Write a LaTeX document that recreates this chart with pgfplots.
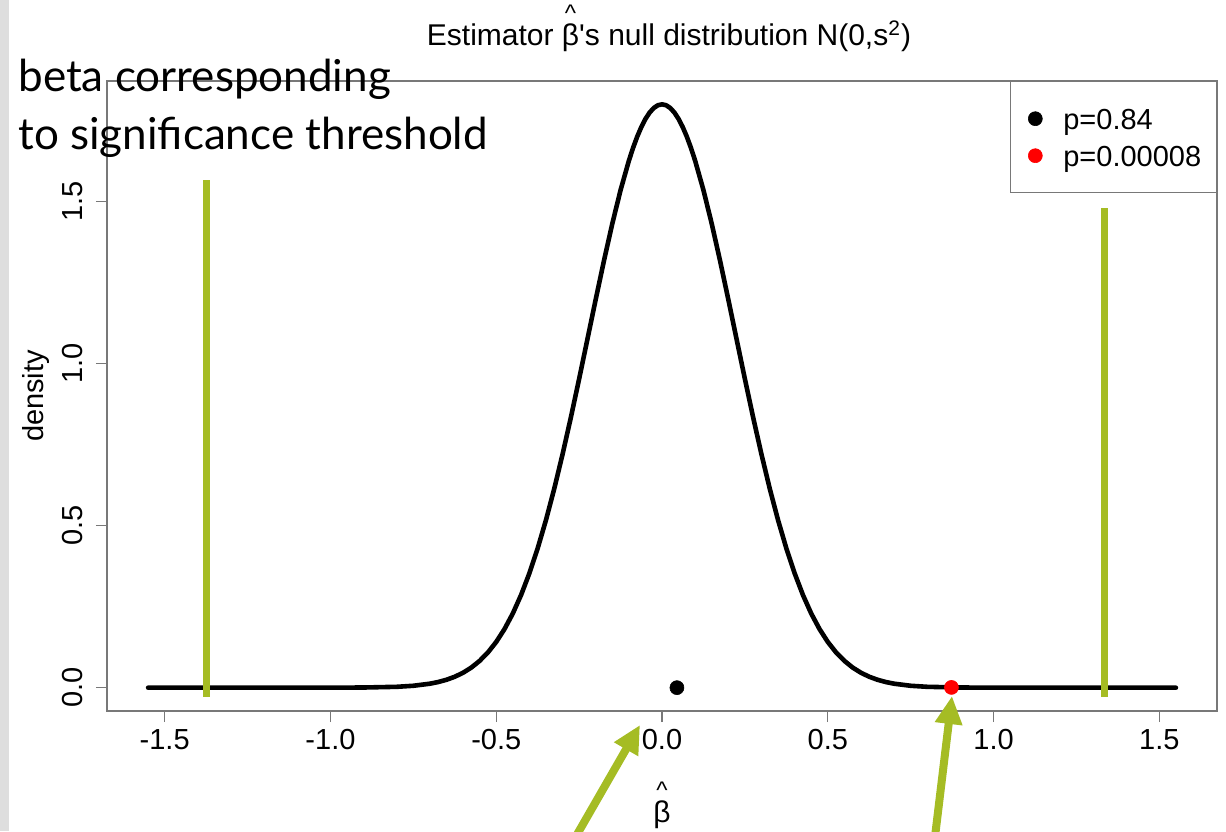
\documentclass[border=0pt]{standalone}
\usepackage{fontspec}
\setmainfont{Liberation Sans}
\newfontfamily\gill{Lato}
\usepackage{pgfplots}
\pgfplotsset{compat=1.18}
\usetikzlibrary{arrows.meta}
\definecolor{olivegr}{RGB}{165,188,36}
\definecolor{axgray}{RGB}{120,120,120}
\definecolor{stripgray}{RGB}{222,222,222}
\newcommand{\hatbeta}{\leavevmode\setbox0\hbox{β}\rlap{\hbox to\wd0{\hss\raisebox{12pt}{\fontsize{12}{12}\selectfont\symbol{"5E}}\hss}}β}
\begin{document}
\begin{tikzpicture}
\path[use as bounding box] (0pt,0pt) rectangle (613pt,415.5pt);
\begin{axis}[
  at={(53.5pt,60pt)}, anchor=south west,
  scale only axis, width=555pt, height=315pt,
  xmin=-1.674, xmax=1.674, ymin=-0.072, ymax=1.872,
  axis line style={draw=axgray, line width=0.7pt},
  tick style={draw=axgray, line width=0.7pt},
  tick align=outside, major tick length=5.5pt,
  xtick pos=bottom, ytick pos=left,
  xtick={-1.5,-1,-0.5,0,0.5,1,1.5},
  xticklabels={-1.5,-1.0,-0.5,0.0,0.5,1.0,1.5},
  ytick={0,0.5,1,1.5},
  yticklabels={0.0,0.5,1.0,1.5},
  tick label style={font=\fontsize{14.5}{16}\selectfont},
  xticklabel style={anchor=north, inner sep=0pt, text height=10.4pt, text depth=0pt, yshift=-3pt},
  yticklabel style={xshift=-6.5pt, rotate=90, anchor=base, inner sep=0pt},
  legend cell align=left,
  legend style={at={(rel axis cs:1,1)}, anchor=north east, draw=axgray, line width=0.7pt,
    inner xsep=0pt, inner ysep=9.25pt, row sep=0pt, column sep=0pt,
    font=\fontsize{14.5}{16}\selectfont,
    nodes={draw=none, inner sep=0pt, text height=10.4pt, text depth=0pt, anchor=west, text width=76.5pt}},
  legend image code/.code={\path[draw=none] (0pt,-9.25pt) rectangle (26.5pt,9.25pt); \draw[#1] plot coordinates {(12.5pt,0pt)};},
]
\addplot[black, line width=2.3pt, line cap=round, line join=round, forget plot] coordinates {
(-1.55,0) (-1.2,0) (-1.0,0.00007) (-0.9,0.00047) (-0.8,0.00266) (-0.75,0.00586)
(-0.7,0.01226) (-0.675,0.01740) (-0.65,0.02438) (-0.625,0.03372) (-0.6,0.04606)
(-0.575,0.06212) (-0.55,0.08272) (-0.525,0.10876) (-0.5,0.14118) (-0.475,0.18095)
(-0.45,0.22897) (-0.425,0.28612) (-0.4,0.35302) (-0.375,0.42996) (-0.35,0.51711)
(-0.325,0.61405) (-0.3,0.71995) (-0.275,0.83341) (-0.25,0.95257) (-0.225,1.07501)
(-0.2,1.19779) (-0.175,1.31779) (-0.15,1.43145) (-0.125,1.53525) (-0.1,1.62574)
(-0.0875,1.66501) (-0.075,1.69980) (-0.0625,1.72981) (-0.05,1.75476) (-0.0375,1.77441)
(-0.025,1.78858) (-0.0125,1.79714) (0,1.8)
(0.0125,1.79714) (0.025,1.78858) (0.0375,1.77441) (0.05,1.75476) (0.0625,1.72981)
(0.075,1.69980) (0.0875,1.66501) (0.1,1.62574) (0.125,1.53525)
(0.15,1.43145) (0.175,1.31779) (0.2,1.19779) (0.225,1.07501) (0.25,0.95257)
(0.275,0.83341) (0.3,0.71995) (0.325,0.61405) (0.35,0.51711) (0.375,0.42996)
(0.4,0.35302) (0.425,0.28612) (0.45,0.22897) (0.475,0.18095) (0.5,0.14118)
(0.525,0.10876) (0.55,0.08272) (0.575,0.06212) (0.6,0.04606) (0.625,0.03372)
(0.65,0.02438) (0.675,0.01740) (0.7,0.01226) (0.75,0.00586) (0.8,0.00266)
(0.9,0.00047) (1.0,0.00007) (1.2,0) (1.55,0)
};
\addplot[olivegr, line width=3.3pt, forget plot] coordinates {(-1.373,-0.028) (-1.373,1.568)};
\addplot[olivegr, line width=3.3pt, forget plot] coordinates {(1.334,-0.028) (1.334,1.481)};
\addplot[only marks, mark=*, mark size=3.5pt, black, mark options={fill=black, draw=black, line width=0.3pt}] coordinates {(0.045,0)};
\addlegendentry{p=0.84}
\addplot[only marks, mark=*, mark size=3.5pt, red, mark options={fill=red, draw=red, line width=0.3pt}] coordinates {(0.873,0.0008)};
\addlegendentry{p=0.00008}
\end{axis}
\begin{scope}[x=0.5pt, y=-0.5pt, shift={(0pt,415.5pt)}]
\fill[stripgray] (0,0) rectangle (8.5,831);
\node[anchor=base, inner sep=0pt, font=\fontsize{15}{17}\selectfont] at (669,46) {Estimator \hatbeta\textquotesingle s null distribution N(0,s\textsuperscript{2})};
\node[anchor=base, inner sep=0pt, font=\fontsize{15}{17}\selectfont] at (662,822) {\hatbeta};
\node[anchor=base, rotate=90, inner sep=0pt, font=\fontsize{14.5}{16}\selectfont] at (43,396) {density};
\node[anchor=base west, inner sep=0pt, font=\gill\fontsize{22}{26}\selectfont] at (18,92) {beta corresponding};
\node[anchor=base west, inner sep=0pt, font=\gill\fontsize{22}{26}\selectfont] at (18,150) {to significance threshold};
\draw[olivegr, line width=4pt, -{Triangle[length=14pt,width=13pt]}] (571,845) -- (640,725);
\draw[olivegr, line width=4pt, -{Triangle[length=14pt,width=13pt]}] (934,845) -- (952,696);
\end{scope}
\end{tikzpicture}
\end{document}
